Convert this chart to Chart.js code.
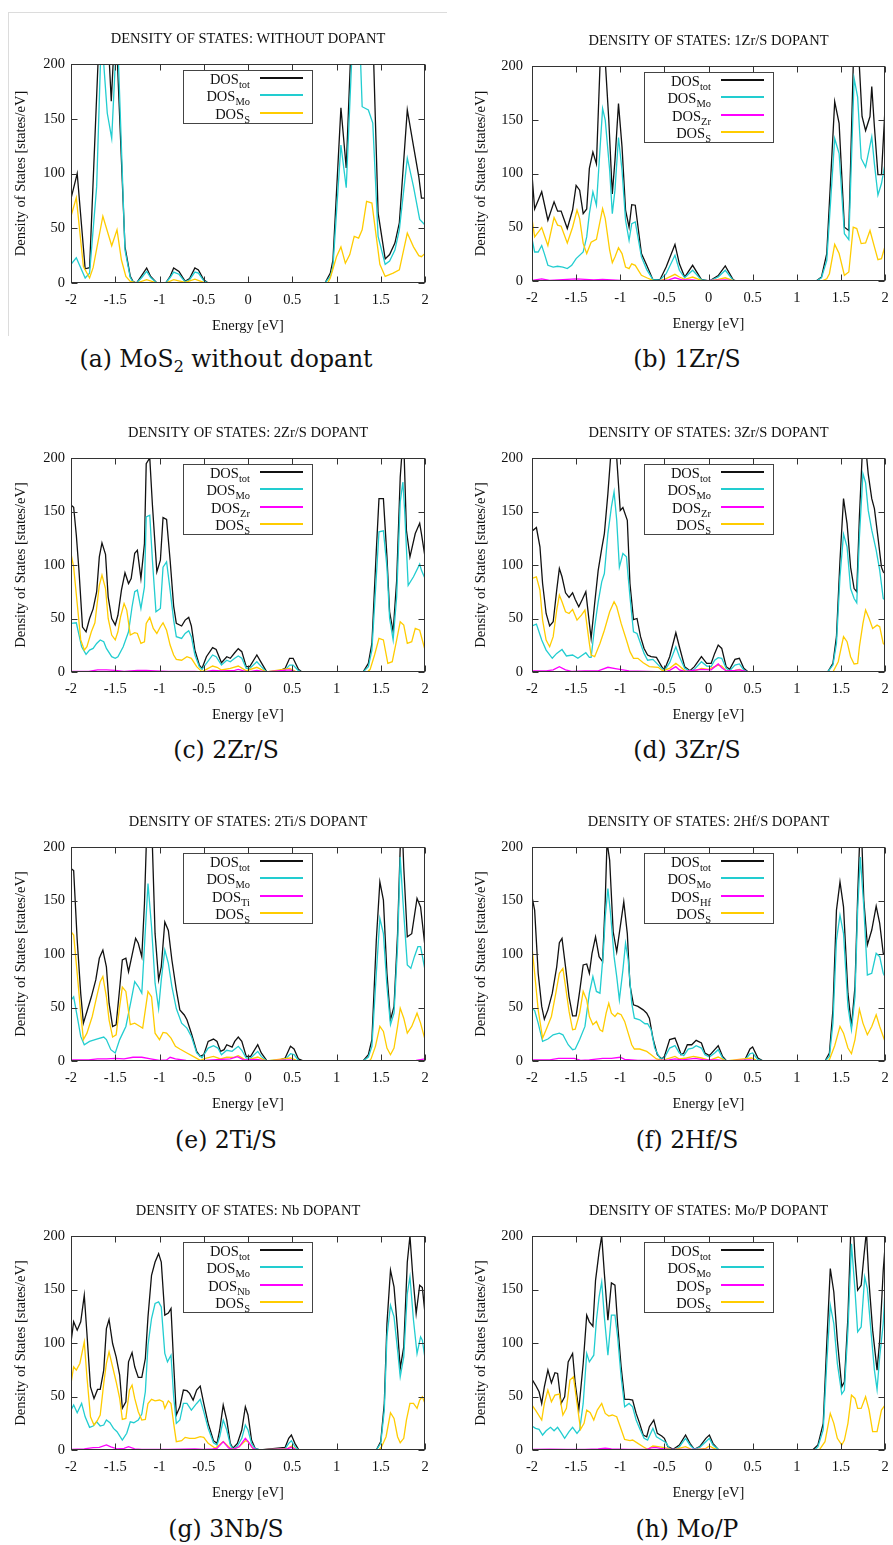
<!DOCTYPE html>
<html><head><meta charset="utf-8">
<script src="https://cdn.jsdelivr.net/npm/chart.js@4/dist/chart.umd.min.js"></script>
<style>
body{margin:0;background:#fff;width:893px;height:1545px;position:relative;overflow:hidden;}
canvas{position:absolute;}
.cap{position:absolute;width:400px;font-family:'DejaVu Serif',serif;font-size:23.5px;line-height:28px;text-align:center;color:#111;white-space:nowrap;}
.cap sub{font-size:16px;vertical-align:-5px;line-height:0;}
.leg{position:absolute;border:1px solid #444;box-sizing:border-box;font-family:'Liberation Serif',serif;font-size:14.5px;color:#111;}
.lt{position:absolute;left:0;width:66px;text-align:right;height:17px;line-height:17px;white-space:nowrap;}
.lt sub{font-size:10.5px;vertical-align:-4px;line-height:0;}
.ls{position:absolute;left:76px;width:43px;height:2px;}
.frameA{position:absolute;left:8px;top:12px;width:438px;height:323px;border-top:1px solid #dcdcdc;border-left:1px solid #dcdcdc;}
</style></head>
<body>
<div class="frameA"></div>
<script>
// ---------- tick labels ----------
const xTickLabels = ['-2','-1.5','-1','-0.5','0','0.5','1','1.5','2'];
const yTickLabels = ['0','50','100','150','200'];

// ---------- (a) without dopant ----------
const aTot = [[-2,77],[-1.93,100],[-1.84,13],[-1.79,14],[-1.68,230],[-1.575,215],[-1.545,166],[-1.515,215],[-1.5,250],[-1.39,33],[-1.33,6],[-1.3,1.5],[-1.26,0],[-1.2,7],[-1.145,13.7],[-1.1,6],[-1.03,0],[-0.93,0],[-0.88,6],[-0.84,13.7],[-0.78,10.6],[-0.71,1.5],[-0.66,4],[-0.6,13.7],[-0.56,12],[-0.5,3],[-0.45,0],[0.87,0],[0.93,9],[0.96,21],[1.05,160],[1.11,105],[1.17,230],[1.41,230],[1.47,64],[1.55,22],[1.6,26],[1.66,36.5],[1.71,55],[1.8,158],[1.87,125],[1.93,97],[1.96,77.5],[2,77.5]];
const aMo = [[-2,17],[-1.94,23],[-1.84,4.6],[-1.79,9],[-1.71,88],[-1.66,220],[-1.63,200],[-1.59,155],[-1.54,132],[-1.5,200],[-1.48,240],[-1.39,30],[-1.33,5],[-1.3,1],[-1.26,0],[-1.2,5],[-1.145,10.6],[-1.1,5],[-1.03,0],[-0.93,0],[-0.88,5],[-0.84,10],[-0.78,8],[-0.71,1],[-0.66,3],[-0.6,10],[-0.56,9],[-0.5,2],[-0.45,0],[0.87,0],[0.93,6],[0.96,15],[1.05,126],[1.11,87],[1.17,200],[1.2,230],[1.26,230],[1.29,161],[1.36,158],[1.41,146],[1.47,42.5],[1.55,17],[1.6,20],[1.66,30],[1.71,48.6],[1.8,114],[1.87,88],[1.94,58],[2,53]];
const aS = [[-2,61],[-1.94,78],[-1.86,15],[-1.79,4.6],[-1.75,14],[-1.64,61],[-1.54,34],[-1.48,48.6],[-1.43,21],[-1.38,6],[-1.33,1.5],[-1.26,0],[-1.145,3],[-1.03,0],[-0.93,0],[-0.84,3],[-0.71,0.5],[-0.6,3.5],[-0.5,0.5],[-0.45,0],[0.9,0],[0.93,4.6],[1.0,24],[1.05,33],[1.1,18],[1.15,26],[1.2,42.5],[1.25,41],[1.29,48.6],[1.34,74.5],[1.4,73],[1.49,17],[1.55,6],[1.64,9],[1.71,12],[1.8,45.6],[1.87,33],[1.93,25],[1.96,24],[2,27]];

// ---------- (b) 1Zr/S ----------
const bTot = [[-2,99],[-1.97,67],[-1.89,83],[-1.82,56.5],[-1.75,73.6],[-1.71,65],[-1.67,65],[-1.6,48.8],[-1.54,66],[-1.5,89],[-1.46,84.5],[-1.42,62.7],[-1.38,67],[-1.35,104.7],[-1.31,120],[-1.27,109],[-1.23,199],[-1.2,240],[-1.17,205],[-1.13,150],[-1.09,81],[-1.06,112],[-1.02,165],[-0.98,125],[-0.94,66],[-0.9,50],[-0.87,71],[-0.83,70.5],[-0.76,25.5],[-0.7,14.6],[-0.63,1.2],[-0.55,1.2],[-0.48,13],[-0.38,34],[-0.33,16],[-0.27,3.7],[-0.18,14.6],[-0.08,1.2],[0.01,0],[0.11,5],[0.19,14],[0.28,1],[0.32,0],[1.22,0],[1.28,3.7],[1.34,25.5],[1.43,166.8],[1.48,146.6],[1.54,50],[1.59,47],[1.64,200],[1.68,230],[1.71,199],[1.74,153],[1.78,140],[1.83,153],[1.85,181],[1.88,143.5],[1.92,99],[1.96,99],[2,160.5]];
const bMo = [[-2,39.4],[-1.97,27],[-1.93,27],[-1.89,33],[-1.86,25.5],[-1.82,14.6],[-1.76,13],[-1.71,13.7],[-1.65,13],[-1.6,11.5],[-1.55,14.6],[-1.5,20.8],[-1.42,27],[-1.38,41],[-1.35,62.7],[-1.31,83],[-1.27,70.5],[-1.2,160.5],[-1.17,149.7],[-1.12,103],[-1.09,62.7],[-1.06,84.5],[-1.02,133.5],[-0.98,103],[-0.94,56.5],[-0.9,37.9],[-0.87,53.4],[-0.83,55],[-0.76,22.4],[-0.7,10.6],[-0.63,1.2],[-0.55,0.8],[-0.48,6.8],[-0.38,24],[-0.33,10],[-0.27,3],[-0.18,10],[-0.08,1],[0.01,0],[0.11,3.7],[0.19,10],[0.28,0.6],[0.32,0],[1.22,0],[1.28,3],[1.34,19],[1.43,132.6],[1.48,118.6],[1.54,44],[1.59,38.5],[1.65,188.5],[1.69,171],[1.73,114],[1.78,106],[1.85,134],[1.88,109],[1.92,80],[1.96,90.7],[2,109]];
const bZr = [[-2,0.5],[-1.89,2],[-1.8,0.5],[-1.6,1.5],[-1.5,2],[-1.4,1.5],[-1.3,1],[-1.2,1.5],[-1.0,0.5],[-0.6,0],[-0.45,1],[-0.38,3],[-0.3,1],[-0.18,1],[-0.1,0],[0.19,1],[0.3,0],[2,0]];
const bS = [[-2,58],[-1.97,41],[-1.89,49.7],[-1.82,33],[-1.75,59],[-1.71,52],[-1.67,51],[-1.6,35.4],[-1.54,50],[-1.49,66],[-1.46,58],[-1.42,35],[-1.38,25.5],[-1.33,36],[-1.27,38.8],[-1.2,67.4],[-1.17,58],[-1.12,28.6],[-1.09,17],[-1.06,22.4],[-1.02,31],[-0.98,25.5],[-0.94,13],[-0.9,11.5],[-0.87,16],[-0.83,14.6],[-0.76,5.3],[-0.7,3],[-0.63,0.6],[-0.55,0.3],[-0.48,2.2],[-0.38,6.2],[-0.33,3.7],[-0.27,1.5],[-0.18,3.7],[-0.08,0.5],[0.01,0],[0.11,1.5],[0.19,3],[0.28,0.3],[0.32,0],[1.28,0],[1.34,2],[1.37,6.8],[1.43,34],[1.48,25.5],[1.54,5.3],[1.59,8.4],[1.64,50],[1.68,48.8],[1.73,34.8],[1.78,35.4],[1.83,47],[1.88,31.7],[1.92,19.9],[1.96,20.8],[2,32.3]];

// ---------- (c) 2Zr/S ----------
const cTot = [[-2,156],[-1.97,154],[-1.94,128],[-1.91,95],[-1.87,42],[-1.83,37.6],[-1.79,50],[-1.75,59],[-1.71,75],[-1.68,107.6],[-1.65,120.7],[-1.61,110],[-1.58,70],[-1.54,50],[-1.5,44],[-1.47,53],[-1.43,76.5],[-1.39,92.7],[-1.35,82.7],[-1.32,87.4],[-1.28,111],[-1.25,113.8],[-1.21,87.4],[-1.17,120],[-1.15,194.7],[-1.11,200],[-1.08,156],[-1.03,93.6],[-0.99,104.5],[-0.96,144.3],[-0.92,142.5],[-0.88,104.5],[-0.84,61.6],[-0.81,45.4],[-0.75,43],[-0.71,48.5],[-0.67,51],[-0.64,43],[-0.6,20.5],[-0.55,6.5],[-0.52,3.4],[-0.47,14.3],[-0.4,22.7],[-0.36,21],[-0.3,8.7],[-0.24,14.3],[-0.2,12.8],[-0.15,18],[-0.11,21.8],[-0.07,19],[-0.02,5],[0.02,5],[0.1,15.9],[0.15,8.7],[0.21,0.3],[0.32,0],[0.42,3.4],[0.47,12.8],[0.51,12.8],[0.57,2.5],[0.61,0],[1.3,0],[1.36,8],[1.4,26.7],[1.45,113.8],[1.48,162],[1.53,162],[1.57,107.6],[1.6,56.3],[1.64,37.6],[1.68,85.8],[1.72,182],[1.74,205],[1.76,215],[1.79,132.5],[1.83,107.6],[1.89,129.4],[1.94,139],[1.96,129],[2,107.6]];
const cMo = [[-2,45.4],[-1.94,46],[-1.88,23.6],[-1.83,16.5],[-1.79,20.5],[-1.75,22],[-1.71,26.7],[-1.67,29.9],[-1.63,28.3],[-1.6,22],[-1.54,14.3],[-1.5,12.8],[-1.47,14.3],[-1.41,23.6],[-1.35,37.6],[-1.31,61],[-1.28,75],[-1.25,76.5],[-1.21,59.4],[-1.17,79.6],[-1.15,145],[-1.11,146.5],[-1.08,104.5],[-1.04,56.3],[-0.99,59.4],[-0.96,98],[-0.92,103],[-0.88,76.5],[-0.84,48.5],[-0.81,33],[-0.75,31.4],[-0.71,36],[-0.67,38.6],[-0.64,33],[-0.6,15.9],[-0.55,5],[-0.52,2.5],[-0.47,8],[-0.4,15.9],[-0.36,14.3],[-0.3,6.5],[-0.24,11],[-0.2,9.6],[-0.15,12.8],[-0.11,15],[-0.07,12.8],[-0.02,3.4],[0.02,3.4],[0.1,9.6],[0.15,5],[0.21,0],[0.42,2],[0.47,6.5],[0.51,6.5],[0.57,1.2],[0.61,0],[1.3,0],[1.36,5],[1.4,20.5],[1.45,89],[1.48,131],[1.53,132],[1.57,98],[1.6,50.4],[1.64,30],[1.68,70.3],[1.72,159],[1.75,177.6],[1.77,151],[1.81,81],[1.87,89],[1.94,100.8],[1.96,95],[2,87.4]];
const cZr = [[-2,0.5],[-1.8,0.5],[-1.7,2],[-1.6,2],[-1.5,1.5],[-1.4,0.5],[-1.25,1.5],[-1.15,1.5],[-1.05,1],[-0.9,0.5],[-0.6,0.5],[-0.5,0],[-0.4,1.5],[-0.3,1],[-0.15,1.5],[-0.11,2.5],[-0.05,1],[0,0],[0.1,1.5],[0.2,0],[0.47,2],[0.55,0],[2,0]];
const cS = [[-2,110.7],[-1.97,98],[-1.93,64],[-1.89,30],[-1.85,20.5],[-1.82,23.6],[-1.77,37.6],[-1.73,46],[-1.68,81],[-1.65,90.5],[-1.61,78],[-1.58,50],[-1.54,34.5],[-1.5,30],[-1.47,37.6],[-1.44,51.6],[-1.4,64],[-1.37,57.9],[-1.33,34.5],[-1.28,36.7],[-1.25,36],[-1.21,26.7],[-1.17,28.3],[-1.15,45.4],[-1.11,51],[-1.07,40.7],[-1.03,36],[-0.99,42.3],[-0.96,46],[-0.92,39],[-0.88,25.2],[-0.84,15.9],[-0.81,11.8],[-0.75,11],[-0.69,14.3],[-0.64,12.8],[-0.58,5],[-0.52,0.3],[-0.47,2.5],[-0.4,5.6],[-0.35,4.4],[-0.3,1.9],[-0.2,3.4],[-0.11,5.6],[-0.02,1.2],[0.1,4.4],[0.21,0],[0.47,3.4],[0.54,0.3],[0.6,0],[1.35,0],[1.38,2.5],[1.43,15.9],[1.48,31.4],[1.53,30],[1.58,8],[1.63,9.6],[1.68,30],[1.72,47],[1.76,43.8],[1.8,26.7],[1.85,28.3],[1.89,40.7],[1.94,39],[2,20.5]];

// ---------- (d) 3Zr/S ----------
const dTot = [[-2,131.6],[-1.95,135],[-1.91,117],[-1.88,82.7],[-1.84,54.7],[-1.8,43],[-1.76,47],[-1.72,76.5],[-1.69,96.7],[-1.66,89],[-1.62,74],[-1.58,69.7],[-1.54,74],[-1.51,67.8],[-1.47,61],[-1.43,67.8],[-1.39,75],[-1.35,45.4],[-1.33,31.4],[-1.29,64],[-1.25,95],[-1.21,115.4],[-1.18,129.4],[-1.14,166.7],[-1.11,200],[-1.07,225],[-1.04,200],[-1.0,151],[-0.97,153.7],[-0.92,141.8],[-0.89,82.7],[-0.85,49],[-0.81,50],[-0.77,33],[-0.73,22],[-0.69,15.9],[-0.65,14.3],[-0.59,13.7],[-0.53,5],[-0.5,1.9],[-0.44,14.3],[-0.37,36.7],[-0.33,23.6],[-0.27,5],[-0.21,1.2],[-0.16,5],[-0.08,14.3],[-0.02,8],[0.03,8],[0.07,17.4],[0.11,25.2],[0.15,22],[0.2,5],[0.24,2.5],[0.3,11.8],[0.35,12.8],[0.4,3.4],[0.45,0],[1.35,0],[1.41,8],[1.45,33],[1.49,104.5],[1.53,162],[1.57,138.7],[1.61,98],[1.65,78],[1.68,75],[1.71,145],[1.74,200],[1.77,220],[1.81,185],[1.85,162],[1.88,152.7],[1.92,126],[1.96,98],[1.98,93.6],[2,92]];
const dMo = [[-2,43],[-1.95,44.8],[-1.89,29.9],[-1.84,20.5],[-1.77,12.8],[-1.72,17.4],[-1.66,21],[-1.61,15],[-1.54,15.9],[-1.48,12.8],[-1.39,18],[-1.35,13.7],[-1.33,13.7],[-1.29,42.3],[-1.25,65.6],[-1.21,84.3],[-1.18,92],[-1.14,129.4],[-1.1,154.3],[-1.07,168.3],[-1.04,141.8],[-1.01,98],[-0.97,110.7],[-0.93,107.6],[-0.89,70.3],[-0.85,37.6],[-0.81,36],[-0.77,26.7],[-0.73,17.4],[-0.69,11],[-0.63,11.8],[-0.55,5],[-0.5,1.2],[-0.44,8.7],[-0.37,23.6],[-0.33,14.3],[-0.27,3.4],[-0.21,0.6],[-0.16,2.5],[-0.08,9.6],[-0.02,5.6],[0.03,5],[0.07,11],[0.11,13.4],[0.15,12.8],[0.2,3.4],[0.24,1.2],[0.3,6.5],[0.35,7.5],[0.4,1.9],[0.45,0],[1.35,0],[1.41,6.5],[1.45,26.7],[1.49,89],[1.53,128.8],[1.57,117],[1.61,78],[1.65,68.7],[1.68,64.7],[1.71,126],[1.75,185.4],[1.78,176.7],[1.81,151],[1.85,132.5],[1.9,113.8],[1.94,95],[1.98,68.7],[2,67.2]];
const dZr = [[-2,1],[-1.84,1],[-1.76,2],[-1.69,5],[-1.62,2],[-1.55,0.5],[-1.4,1],[-1.25,1],[-1.14,4.4],[-1.04,3],[-0.9,1],[-0.7,0.5],[-0.5,0],[-0.44,1.5],[-0.37,5],[-0.33,2],[-0.27,0.5],[-0.08,2.5],[0.03,2],[0.11,7.5],[0.15,4],[0.2,1],[0.3,1.5],[0.35,2],[0.45,0],[2,0]];
const dS = [[-2,87.4],[-1.95,89],[-1.91,76.5],[-1.88,48.5],[-1.84,29.9],[-1.8,23.6],[-1.76,33],[-1.72,57.9],[-1.69,71.9],[-1.66,65.6],[-1.62,56.3],[-1.58,54.7],[-1.54,58.5],[-1.49,48.5],[-1.44,53.2],[-1.4,57.9],[-1.35,26.7],[-1.33,15.9],[-1.29,14.3],[-1.23,26.7],[-1.18,39],[-1.12,56.3],[-1.07,65.6],[-1.04,61],[-0.99,45.4],[-0.93,29.9],[-0.89,19],[-0.85,12.8],[-0.8,12.8],[-0.74,8.7],[-0.67,5],[-0.57,4.4],[-0.52,1.2],[-0.44,3.4],[-0.37,8],[-0.33,5.6],[-0.26,0.6],[-0.16,1],[-0.08,3.4],[0.0,2.5],[0.11,6.5],[0.15,5.6],[0.2,1.2],[0.28,1],[0.35,2.5],[0.41,0.3],[0.45,0],[1.41,0],[1.47,9.6],[1.53,33],[1.57,28.3],[1.61,14.3],[1.65,7.5],[1.69,8],[1.71,23.6],[1.75,45.4],[1.78,57.9],[1.82,50],[1.86,40.7],[1.91,43.8],[1.94,42.3],[1.98,26.7],[2,25.2]];

// ---------- (e) 2Ti/S ----------
const eTot = [[-2,179.8],[-1.97,178],[-1.93,113],[-1.89,63],[-1.86,35.4],[-1.82,46.3],[-1.77,60],[-1.72,75.8],[-1.68,96],[-1.64,103.7],[-1.6,88],[-1.57,54],[-1.53,32.3],[-1.49,33.9],[-1.45,68],[-1.42,94.4],[-1.38,96],[-1.35,83.5],[-1.31,99],[-1.27,114.6],[-1.24,110],[-1.2,97.5],[-1.17,147],[-1.15,200],[-1.11,230],[-1.08,200],[-1.05,119],[-1.01,75.8],[-0.98,88],[-0.94,130],[-0.9,122],[-0.86,94.4],[-0.81,66.5],[-0.77,47.8],[-0.72,43],[-0.69,38.5],[-0.64,26],[-0.58,9],[-0.54,4.3],[-0.5,5.9],[-0.45,18.3],[-0.39,20.5],[-0.35,18.3],[-0.31,9],[-0.27,10.6],[-0.24,15.2],[-0.18,13],[-0.15,18.3],[-0.11,22.4],[-0.07,18.3],[-0.02,4.3],[0.03,4.3],[0.11,15.2],[0.15,7.5],[0.21,0.6],[0.32,0],[0.42,2.8],[0.48,13.7],[0.52,11.2],[0.57,1.9],[0.63,0],[1.3,0],[1.36,5.9],[1.4,20],[1.45,113],[1.49,167.4],[1.53,150.3],[1.57,82],[1.61,38.5],[1.65,51],[1.69,119],[1.72,200],[1.74,225],[1.76,181],[1.8,116],[1.85,119],[1.91,152],[1.95,144],[2,106.8]];
const eMo = [[-2,57],[-1.97,60],[-1.93,41.6],[-1.89,23],[-1.85,15.2],[-1.79,18.3],[-1.71,20.5],[-1.63,22.4],[-1.6,20],[-1.55,10.6],[-1.5,7.5],[-1.45,20],[-1.38,32.3],[-1.32,57],[-1.28,74.2],[-1.24,69.6],[-1.2,63.4],[-1.16,122],[-1.13,165.8],[-1.09,125.5],[-1.05,72.7],[-1.01,49],[-0.98,75.8],[-0.94,103.7],[-0.9,91.3],[-0.86,69.6],[-0.81,49],[-0.75,35.4],[-0.69,30.7],[-0.64,23],[-0.58,7.5],[-0.52,3],[-0.45,12.1],[-0.39,14.3],[-0.34,12.1],[-0.3,5.9],[-0.24,10],[-0.18,9],[-0.11,13.7],[-0.07,10],[-0.02,2.8],[0.03,2.8],[0.11,9],[0.15,4.3],[0.21,0],[0.42,1.5],[0.48,6.8],[0.52,5.9],[0.57,0.6],[0.63,0],[1.3,0],[1.36,3.7],[1.4,13.7],[1.45,82],[1.49,133.2],[1.53,119],[1.57,69.6],[1.61,33.9],[1.65,44.7],[1.69,106.8],[1.72,190.7],[1.75,150.3],[1.8,89.8],[1.84,86.6],[1.88,97.5],[1.92,106.8],[1.95,106.8],[2,85]];
const eTi = [[-2,1],[-1.8,1],[-1.7,2],[-1.6,2],[-1.5,2.5],[-1.4,2],[-1.3,3.5],[-1.2,3.5],[-1.1,2],[-1.0,0.5],[-0.92,1],[-0.88,3.5],[-0.82,2],[-0.7,0.5],[-0.55,0],[-0.4,1],[-0.3,1.5],[-0.2,2],[-0.12,4],[-0.05,1],[0.1,1.5],[0.2,0],[0.48,1],[0.55,0],[1.9,0.5],[2,2]];
const eS = [[-2,120.8],[-1.97,117.7],[-1.93,82],[-1.89,44.7],[-1.86,20],[-1.82,26],[-1.76,41.6],[-1.71,60],[-1.67,74.2],[-1.64,79],[-1.6,60],[-1.57,38.5],[-1.53,22.4],[-1.49,24.5],[-1.45,51],[-1.42,69],[-1.38,65],[-1.33,33.9],[-1.28,35.4],[-1.22,32.3],[-1.19,30.7],[-1.16,47.8],[-1.13,65],[-1.09,60],[-1.05,26],[-1.0,20],[-0.96,26.7],[-0.92,26],[-0.87,21.4],[-0.82,13.7],[-0.77,11.2],[-0.69,7.5],[-0.62,4.3],[-0.54,0.6],[-0.47,2.8],[-0.39,4.3],[-0.31,1.9],[-0.24,3.7],[-0.16,3.4],[-0.11,5],[-0.02,0.6],[0.11,3.7],[0.21,0],[0.48,2.8],[0.57,0],[1.37,0],[1.39,1.9],[1.44,13.7],[1.49,32.3],[1.53,27.6],[1.57,12.1],[1.61,5.9],[1.65,12.1],[1.69,32.3],[1.72,49.4],[1.76,40],[1.8,26],[1.85,32.3],[1.91,44.7],[1.95,35.4],[2,20]];

// ---------- (f) 2Hf/S ----------
const fTot = [[-2,153.4],[-1.97,141],[-1.93,82],[-1.89,51],[-1.86,39],[-1.82,47.8],[-1.77,63.4],[-1.72,88],[-1.69,110.6],[-1.66,114.6],[-1.62,88],[-1.58,60],[-1.54,42.2],[-1.5,42.2],[-1.46,65],[-1.42,89.8],[-1.38,90.7],[-1.35,82],[-1.32,100.6],[-1.28,116],[-1.24,97.5],[-1.2,92.9],[-1.17,150.3],[-1.15,205],[-1.12,187.6],[-1.08,120.8],[-1.04,102],[-1.0,125.5],[-0.96,148.8],[-0.92,119],[-0.89,71],[-0.85,52.5],[-0.8,51],[-0.74,47.8],[-0.7,44.7],[-0.67,40],[-0.63,21.4],[-0.58,5.9],[-0.53,1.9],[-0.5,4.3],[-0.44,20],[-0.38,21.4],[-0.35,15.2],[-0.31,5.9],[-0.28,7.5],[-0.24,15.2],[-0.19,15.2],[-0.14,19.3],[-0.08,16.8],[-0.04,7.5],[0.01,5],[0.07,10.6],[0.11,14.3],[0.16,4.3],[0.2,0.6],[0.28,0],[0.41,0.6],[0.47,11.2],[0.5,13],[0.56,2.8],[0.62,0],[1.32,0],[1.37,7.5],[1.41,47.8],[1.45,141],[1.49,167.4],[1.53,144],[1.58,63.4],[1.62,32.3],[1.66,69.6],[1.69,153.4],[1.71,200],[1.73,225],[1.76,150.3],[1.8,108.4],[1.85,122.4],[1.9,144.7],[1.94,128.6],[1.98,100.6],[2,100]];
const fMo = [[-2,49.4],[-1.97,47.2],[-1.93,35.4],[-1.88,18.3],[-1.82,20.5],[-1.76,24.5],[-1.69,26],[-1.65,24.5],[-1.59,15.2],[-1.54,10.6],[-1.51,11.2],[-1.46,20],[-1.4,32.3],[-1.35,63.4],[-1.31,78.9],[-1.27,65],[-1.23,63.4],[-1.19,103.7],[-1.17,134.8],[-1.14,161.2],[-1.11,137.9],[-1.07,97.5],[-1.04,78.9],[-1.01,57.1],[-0.97,85],[-0.94,110],[-0.91,94.4],[-0.87,54],[-0.84,40],[-0.78,38.5],[-0.72,34.8],[-0.69,34.8],[-0.65,29.2],[-0.61,12.1],[-0.55,2.5],[-0.5,3],[-0.44,12.1],[-0.38,14.3],[-0.33,7.5],[-0.28,5],[-0.23,11.2],[-0.18,12.1],[-0.14,14.3],[-0.08,12.1],[-0.04,5.9],[0.01,3.7],[0.07,7.5],[0.11,10.6],[0.16,2.8],[0.2,0],[0.41,0.5],[0.47,6.8],[0.5,7.5],[0.56,1.2],[0.62,0],[1.32,0],[1.37,4.3],[1.41,35.4],[1.45,113],[1.49,136.3],[1.53,119],[1.58,51],[1.62,29.2],[1.66,60],[1.69,141],[1.72,190.7],[1.76,144],[1.8,80.4],[1.85,82],[1.9,100.6],[1.94,97.5],[1.98,82],[2,78.9]];
const fHf = [[-2,1],[-1.8,1],[-1.7,2.5],[-1.6,2.5],[-1.52,2.5],[-1.45,0.5],[-1.35,1],[-1.2,2.5],[-1.1,2.5],[-1.0,3.5],[-0.95,1.5],[-0.8,0.5],[-0.55,0.5],[-0.45,1],[-0.38,2],[-0.3,1],[-0.2,2],[-0.15,2.5],[-0.05,1],[0.1,1],[0.2,0],[0.47,1],[0.55,0],[2,0]];
const fS = [[-2,106.8],[-1.97,82],[-1.93,47.8],[-1.88,21.4],[-1.84,29.2],[-1.78,41.6],[-1.73,63.4],[-1.69,82],[-1.65,86.6],[-1.62,69.6],[-1.58,46.3],[-1.54,29.2],[-1.51,29.8],[-1.46,44.7],[-1.42,65],[-1.38,57.1],[-1.35,41.6],[-1.31,33.9],[-1.27,37],[-1.23,29.2],[-1.2,27.6],[-1.16,44.7],[-1.13,54],[-1.1,44.7],[-1.06,41.6],[-1.03,44.7],[-0.99,43.2],[-0.95,37],[-0.91,26],[-0.87,15.2],[-0.84,11.2],[-0.78,11.2],[-0.7,9],[-0.65,5.9],[-0.59,1.9],[-0.52,0.6],[-0.44,2.8],[-0.38,4.3],[-0.33,1.9],[-0.25,2.8],[-0.17,4.3],[-0.08,2.8],[0.01,0.6],[0.11,3.7],[0.2,0],[0.49,2.8],[0.56,0],[1.34,0],[1.37,1.2],[1.43,14.3],[1.49,32.3],[1.53,26],[1.58,12.1],[1.62,6.8],[1.66,20],[1.71,48.4],[1.75,35.4],[1.8,24.5],[1.85,32.3],[1.9,43.2],[1.94,32.3],[2,18.3]];

// ---------- (g) 3Nb/S ----------
const gTot = [[-2,101],[-1.97,119.8],[-1.93,112],[-1.89,119.8],[-1.85,144.6],[-1.82,108.9],[-1.78,59],[-1.74,48.2],[-1.7,56.6],[-1.67,56.6],[-1.63,74.7],[-1.6,113.5],[-1.57,122],[-1.53,99.5],[-1.49,87],[-1.45,70],[-1.42,38.9],[-1.38,45],[-1.35,82.4],[-1.31,91],[-1.28,77.8],[-1.24,67.8],[-1.2,67.8],[-1.16,85.5],[-1.13,124.4],[-1.09,163.3],[-1.05,175.7],[-1.01,183.5],[-0.98,175.7],[-0.94,126],[-0.9,128],[-0.87,132.2],[-0.84,80.9],[-0.81,32.7],[-0.77,40.4],[-0.73,56],[-0.69,55.4],[-0.66,52.9],[-0.62,46.7],[-0.58,56],[-0.54,59.7],[-0.5,43.5],[-0.45,24.9],[-0.39,8.7],[-0.35,6.2],[-0.32,18.7],[-0.28,42],[-0.24,28],[-0.2,6.2],[-0.17,1.6],[-0.12,6.2],[-0.07,18.7],[-0.03,40.4],[0.0,32.7],[0.04,9.3],[0.08,1.6],[0.14,0],[0.42,2.5],[0.46,10.9],[0.49,14],[0.53,6.2],[0.57,0.6],[0.61,0],[1.45,0],[1.5,7.8],[1.54,43.5],[1.57,118],[1.61,168],[1.65,152.4],[1.69,112],[1.72,76.2],[1.76,96.4],[1.8,175.7],[1.83,200],[1.86,164.9],[1.9,127.5],[1.94,154],[1.97,151.8],[2,127.5]];
const gMo = [[-2,37.3],[-1.97,42],[-1.93,34.8],[-1.88,43.5],[-1.84,31],[-1.79,21.2],[-1.75,22.4],[-1.71,26.4],[-1.67,22.4],[-1.63,23.3],[-1.6,28],[-1.56,25.5],[-1.52,20.2],[-1.48,17.1],[-1.42,9.3],[-1.37,15.6],[-1.33,26.4],[-1.29,25.5],[-1.24,28],[-1.2,33.6],[-1.16,54.4],[-1.13,98],[-1.09,122.9],[-1.05,136.9],[-1.01,138.4],[-0.98,133.7],[-0.94,90.2],[-0.91,82.4],[-0.87,88.6],[-0.84,49.8],[-0.81,24.9],[-0.77,28],[-0.73,43.5],[-0.69,43.5],[-0.64,37.3],[-0.58,43.5],[-0.54,47.3],[-0.5,35.8],[-0.45,20.2],[-0.39,6.8],[-0.35,4.7],[-0.32,12.4],[-0.28,28],[-0.24,18.7],[-0.2,4.7],[-0.17,0.9],[-0.12,3.7],[-0.07,10.9],[-0.03,23.3],[0.0,18.7],[0.04,6.2],[0.08,1.2],[0.14,0],[0.42,1],[0.46,6.2],[0.49,8.7],[0.53,3.1],[0.57,0],[1.45,0],[1.5,6.2],[1.54,37.3],[1.57,105.8],[1.61,135.3],[1.65,124.4],[1.69,93.3],[1.72,68.4],[1.76,87.1],[1.8,146.2],[1.83,161.7],[1.87,121.3],[1.91,90.2],[1.95,105.8],[1.97,102.6],[2,85.5]];
const gNb = [[-2,0.5],[-1.85,1],[-1.75,2.2],[-1.68,2.5],[-1.6,4.7],[-1.55,3],[-1.48,1],[-1.4,1.5],[-1.35,3.1],[-1.28,1],[-1.2,0.5],[-0.9,0.5],[-0.6,1],[-0.5,0.5],[-0.4,1],[-0.35,1.5],[-0.28,7.8],[-0.22,2],[-0.17,0.5],[-0.1,3],[-0.03,10.9],[0.0,8],[0.05,2],[0.1,0],[0.44,1],[0.49,2.5],[0.55,0],[2,0]];
const gS = [[-2,62.2],[-1.97,77.8],[-1.94,74.7],[-1.9,80.9],[-1.85,101],[-1.82,68.4],[-1.78,31],[-1.74,23.3],[-1.7,28],[-1.67,32.7],[-1.63,62.2],[-1.6,80.9],[-1.57,91.8],[-1.53,77.8],[-1.49,63.8],[-1.45,48.2],[-1.42,28.6],[-1.38,29.5],[-1.34,56],[-1.31,60.7],[-1.28,48.2],[-1.24,35.8],[-1.2,28],[-1.16,28.6],[-1.13,43.5],[-1.09,47.3],[-1.05,46],[-1.0,46.7],[-0.96,45.1],[-0.94,38.9],[-0.9,46],[-0.87,43.5],[-0.84,24.9],[-0.81,7.8],[-0.75,8.7],[-0.71,11.8],[-0.66,10.9],[-0.6,10.9],[-0.54,12.4],[-0.5,11.8],[-0.45,6.2],[-0.37,1.6],[-0.28,7.8],[-0.2,1.6],[-0.17,0.6],[-0.1,3],[-0.03,8.7],[0.0,7.8],[0.06,1],[0.1,0],[0.44,1],[0.49,3.7],[0.55,0],[1.48,0],[1.51,3.1],[1.56,12.4],[1.61,34.8],[1.65,29.5],[1.69,12.4],[1.72,6.8],[1.76,10.9],[1.79,28],[1.83,43.5],[1.87,43.5],[1.91,38.9],[1.94,46.7],[1.97,49.8],[2,43.5]];

// ---------- (h) Mo/P ----------
const hTot = [[-2,66],[-1.96,60.7],[-1.92,54.4],[-1.89,43.5],[-1.86,59.1],[-1.82,74.7],[-1.78,62.8],[-1.74,72.2],[-1.71,71.5],[-1.67,43.5],[-1.63,49.8],[-1.59,82.4],[-1.54,90.2],[-1.51,62.2],[-1.47,37.3],[-1.42,80.9],[-1.38,126],[-1.35,119.8],[-1.31,115.7],[-1.28,158.6],[-1.24,185],[-1.21,200],[-1.18,164.9],[-1.14,121.3],[-1.1,156.1],[-1.06,154],[-1.03,118.2],[-0.99,77.8],[-0.95,47.3],[-0.9,47.3],[-0.86,46.7],[-0.82,34.2],[-0.78,24.9],[-0.74,14],[-0.7,12.4],[-0.67,21.8],[-0.62,28],[-0.58,15.6],[-0.53,13.1],[-0.5,10.9],[-0.46,3.1],[-0.4,0.6],[-0.33,4.7],[-0.26,14],[-0.21,6.2],[-0.16,0.6],[-0.1,3.1],[-0.03,10.9],[0.01,14],[0.05,6.2],[0.11,0.6],[0.16,0],[1.18,0],[1.24,4.7],[1.3,24.9],[1.34,99.5],[1.38,169.5],[1.42,147.7],[1.46,102.6],[1.51,59.1],[1.54,63.8],[1.58,124.4],[1.61,200],[1.63,225],[1.66,180.4],[1.69,149.3],[1.73,154],[1.76,180.4],[1.79,205],[1.8,186.6],[1.82,155.5],[1.86,112],[1.91,74.7],[1.94,102.6],[1.98,168],[2,189.7]];
const hMo = [[-2,22.4],[-1.96,20.2],[-1.92,19.3],[-1.88,14],[-1.84,18],[-1.79,21.2],[-1.75,18],[-1.71,21.2],[-1.67,16.2],[-1.63,10.9],[-1.58,17.1],[-1.54,21.2],[-1.49,15.6],[-1.46,18.7],[-1.42,43.5],[-1.38,90.2],[-1.35,82.4],[-1.3,88.6],[-1.27,121.3],[-1.24,143],[-1.21,157],[-1.18,124.4],[-1.14,88.6],[-1.1,126],[-1.06,126],[-1.03,105.8],[-0.99,68.4],[-0.95,40.4],[-0.9,43.5],[-0.86,40.4],[-0.82,28],[-0.78,20.2],[-0.73,10.9],[-0.69,9.3],[-0.63,20.2],[-0.59,12.4],[-0.53,9.3],[-0.48,6.8],[-0.44,0.9],[-0.38,0.6],[-0.33,3.1],[-0.26,10.9],[-0.21,4.7],[-0.16,0.6],[-0.1,2.5],[-0.03,7.8],[0.01,10.9],[0.05,4.7],[0.11,0.6],[0.16,0],[1.2,0],[1.24,3.1],[1.3,18.7],[1.34,80.9],[1.38,135.3],[1.42,118.2],[1.46,80.9],[1.51,52.3],[1.54,56],[1.58,112],[1.62,192.8],[1.66,149.3],[1.69,110.4],[1.73,115],[1.77,161.7],[1.8,150.9],[1.84,112],[1.88,74.7],[1.91,56.6],[1.94,87.1],[1.98,118.2],[2,149.3]];
const hP = [[-2,0.5],[-1.8,0.8],[-1.6,0.5],[-1.4,0.5],[-1.25,1],[-1.17,1.8],[-1.1,1],[-0.9,0.5],[-0.7,0.5],[-0.65,2],[-0.6,2.5],[-0.55,1.5],[-0.45,0.5],[-0.3,0.5],[0,0.5],[0.16,0],[2,0]];
const hS = [[-2,42],[-1.96,37.3],[-1.89,28],[-1.86,43.5],[-1.82,56],[-1.78,45.1],[-1.74,51.3],[-1.69,52.3],[-1.65,32.7],[-1.61,38.9],[-1.57,65.3],[-1.53,68.4],[-1.49,43.5],[-1.45,19.3],[-1.41,24.9],[-1.38,37.3],[-1.34,34.8],[-1.3,28],[-1.26,37.3],[-1.21,43.5],[-1.17,34.2],[-1.13,31.7],[-1.09,32.7],[-1.04,31.1],[-1.0,21.8],[-0.95,9.9],[-0.89,8.7],[-0.86,9.3],[-0.8,6.2],[-0.74,3.1],[-0.69,0.6],[-0.63,3.7],[-0.57,3.1],[-0.52,2.5],[-0.46,1.6],[-0.4,0],[-0.26,3.1],[-0.18,0],[-0.03,1.5],[0.01,3.7],[0.05,2],[0.11,0],[1.2,0],[1.26,0.6],[1.32,7.8],[1.38,34.2],[1.42,24.9],[1.46,10.9],[1.51,4.7],[1.54,9.3],[1.58,24.9],[1.62,51.3],[1.66,48.2],[1.69,38.9],[1.73,38.9],[1.78,49.8],[1.82,37.3],[1.86,17.1],[1.91,17.1],[1.96,37.3],[2,42]];

// ---------- panel text ----------
const titles = ['DENSITY OF STATES: WITHOUT DOPANT','DENSITY OF STATES: 1Zr/S DOPANT','DENSITY OF STATES: 2Zr/S DOPANT','DENSITY OF STATES: 3Zr/S DOPANT','DENSITY OF STATES: 2Ti/S DOPANT','DENSITY OF STATES: 2Hf/S DOPANT','DENSITY OF STATES: Nb DOPANT','DENSITY OF STATES: Mo/P DOPANT'];
const captions = ['(a) MoS<sub>2</sub> without dopant','(b) 1Zr/S','(c) 2Zr/S','(d) 3Zr/S','(e) 2Ti/S','(f) 2Hf/S','(g) 3Nb/S','(h) Mo/P'];
const dopants = [null,'Zr','Zr','Zr','Ti','Hf','Nb','P'];
const seriesData = [
  [aTot,aMo,null,aS],[bTot,bMo,bZr,bS],[cTot,cMo,cZr,cS],[dTot,dMo,dZr,dS],
  [eTot,eMo,eTi,eS],[fTot,fMo,fHf,fS],[gTot,gMo,gNb,gS],[hTot,hMo,hP,hS]
];

const COLORS = {tot:'#111111', Mo:'#22cdd0', X:'#ff00ff', S:'#ffcc00'};
const FONT = {family:"'Liberation Serif', 'Times New Roman', serif", size:14.5, weight:'normal'};
const TXT = '#111';

// layout (pixels)
const cols = [
  {colLeft:0, colW:446, L:71, R:425, yPad:6, yTitlePad:12.3, capX:226},
  {colLeft:446, colW:447, L:532, R:885, yPad:9, yTitlePad:26.3, capX:687}
];
const rows = [
  [{T:64,B:283},{T:66,B:281}],
  [{T:458,B:672},{T:458,B:672}],
  [{T:847,B:1061},{T:847,B:1061}],
  [{T:1236,B:1450},{T:1236,B:1450}]
];
const capY = [359, 750, 1140, 1529];

const framePlugin = {
  id:'gnuFrame',
  afterDatasetsDraw(chart){
    const {ctx, chartArea:a, scales:{x, y}} = chart;
    ctx.save();
    ctx.strokeStyle = '#333'; ctx.lineWidth = 1;
    const l = Math.round(a.left)+0.5, r = Math.round(a.right)-0.5, t = Math.round(a.top)+0.5, b = Math.round(a.bottom)-0.5;
    ctx.strokeRect(l, t, r-l, b-t);
    ctx.beginPath();
    x.ticks.forEach(tk => {
      const px = Math.round(x.getPixelForValue(tk.value))+0.5;
      ctx.moveTo(px, b); ctx.lineTo(px, b-6);
      ctx.moveTo(px, t); ctx.lineTo(px, t+6);
    });
    y.ticks.forEach(tk => {
      const py = Math.round(y.getPixelForValue(tk.value))+0.5;
      ctx.moveTo(l, py); ctx.lineTo(l+6, py);
      ctx.moveTo(r, py); ctx.lineTo(r-6, py);
    });
    ctx.stroke();
    ctx.restore();
  }
};

function makePanel(i){
  const c = cols[i%2], rr = rows[Math.floor(i/2)][i%2];
  const cw = c.colW, ch = (rr.B - rr.T) + 44 + 56;
  const canvas = document.createElement('canvas');
  canvas.width = cw; canvas.height = ch;
  canvas.style.width = cw+'px'; canvas.style.height = ch+'px';
  canvas.style.left = c.colLeft+'px'; canvas.style.top = (rr.T-44)+'px';
  document.body.appendChild(canvas);

  const sd = seriesData[i];
  const defs = [
    {sub:'tot', col:COLORS.tot, data:sd[0], order:3},
    {sub:'Mo', col:COLORS.Mo, data:sd[1], order:2},
    {sub:dopants[i], col:COLORS.X, data:sd[2], order:0},
    {sub:'S', col:COLORS.S, data:sd[3], order:1}
  ].filter(d => d.data);
  const datasets = defs.map(d => ({
    label:'DOS'+d.sub, sub:d.sub, data:d.data, borderColor:d.col, backgroundColor:d.col,
    borderWidth:1.3, pointRadius:0, tension:0, fill:false, order:d.order
  }));

  const chart = new Chart(canvas, {
    type:'line',
    data:{datasets},
    options:{
      responsive:false, animation:false, devicePixelRatio:1,
      layout:{padding:{left:0, right: cw - (c.R - c.colLeft), top:0, bottom:0}},
      plugins:{
        legend:{display:false}, tooltip:{enabled:false},
        title:{display:true, text:titles[i], fullSize:false, font:FONT, color:TXT, padding:{top:10.3, bottom:16.3}}
      },
      scales:{
        x:{type:'linear', min:-2, max:2,
          ticks:{stepSize:0.5, padding:8.3, font:FONT, color:TXT, autoSkip:false, maxRotation:0,
            callback:v => { const t = xTickLabels.find(s => Number(s) === v); return t === undefined ? '' : t; }},
          grid:{display:false, drawTicks:false}, border:{display:false},
          title:{display:true, text:'Energy [eV]', font:FONT, color:TXT, padding:{top:0, bottom:4.3}},
          afterFit(s){ s.height = 56; s.paddingLeft = 0; s.paddingRight = 0; }
        },
        y:{min:0, max:200,
          ticks:{stepSize:50, padding:c.yPad, font:FONT, color:TXT,
            callback:v => { const t = yTickLabels.find(s => Number(s) === v); return t === undefined ? '' : t; }},
          grid:{display:false, drawTicks:false}, border:{display:false},
          title:{display:true, text:'Density of States [states/eV]', font:FONT, color:TXT, padding:{top:c.yTitlePad, bottom:0}},
          afterFit(s){ s.width = c.L - c.colLeft; s.paddingTop = 0; s.paddingBottom = 0; }
        }
      }
    },
    plugins:[framePlugin]
  });

  // legend box (gnuplot-style key) built from the chart's datasets
  const n = chart.data.datasets.length;
  const leg = document.createElement('div');
  leg.className = 'leg';
  leg.style.left = (c.L + 112) + 'px';
  leg.style.top = (rr.T + 6) + 'px';
  leg.style.width = '130px';
  leg.style.height = Math.round(n*17.5 + 1) + 'px';
  chart.data.datasets.forEach((ds, k) => {
    const cy = Math.round(8.5 + 17.5*k - 1);
    const t = document.createElement('div');
    t.className = 'lt';
    t.style.top = (cy - 8) + 'px';
    t.innerHTML = 'DOS<sub>' + ds.sub + '</sub>';
    const s = document.createElement('div');
    s.className = 'ls';
    s.style.top = (cy - 2) + 'px';
    s.style.backgroundColor = ds.borderColor;
    leg.appendChild(t); leg.appendChild(s);
  });
  document.body.appendChild(leg);

  const cap = document.createElement('div');
  cap.className = 'cap';
  cap.style.left = (c.capX - 200) + 'px';
  cap.style.top = (capY[Math.floor(i/2)] - 14) + 'px';
  cap.innerHTML = captions[i];
  document.body.appendChild(cap);
}

for (let i = 0; i < 8; i++) makePanel(i);
</script>
</body></html>
